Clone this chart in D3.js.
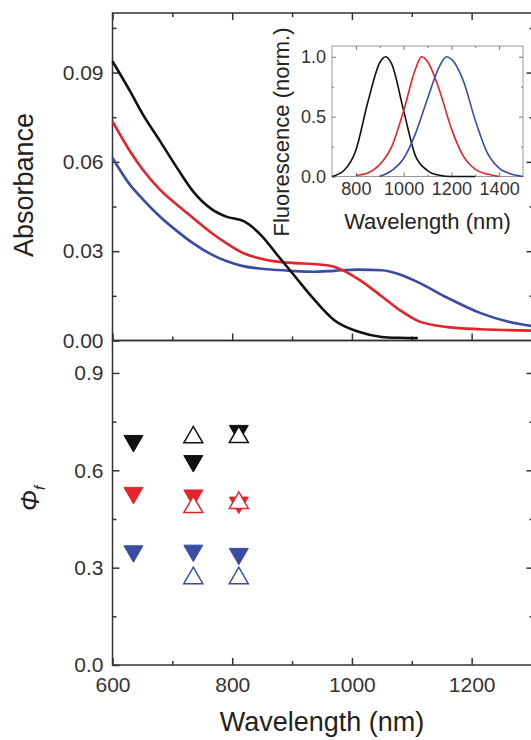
<!DOCTYPE html>
<meta charset="utf-8">
<style>
body { margin: 0; background: #fff; }
svg { background: #fff; font-family: "Liberation Sans", Arial, sans-serif; }
.frame { fill: none; stroke: #333; stroke-width: 1.5px; }
.axis path.domain { display: none; }
.axis line { stroke: #333; stroke-width: 1.5px; }
.axis text { fill: #333; font-size: 21px; font-family: "Liberation Sans", Arial, sans-serif; }
.inset .axis line { stroke: #777; stroke-width: 1px; }
.inset .axis text { font-size: 18px; }
.curve { fill: none; stroke-width: 2.6px; }
.icurve { fill: none; stroke-width: 1.6px; }
.title { fill: #222; }
</style>
<svg width="531" height="740"></svg>
<script src="https://cdn.jsdelivr.net/npm/d3@7"></script>
<script>

// absorbance spectra (top panel)
var absNm    = [600, 630, 650, 680, 710, 735, 765, 790, 820, 850, 875, 905, 935, 970, 1010, 1050, 1080, 1110, 1160, 1215, 1260, 1300];
var absBlack = [0.0938, 0.0835, 0.0762, 0.0668, 0.0573, 0.0500, 0.0442, 0.0416, 0.0400, 0.0350, 0.0288, 0.0215, 0.0142, 0.0069, 0.0030, 0.0012, 0.0009, 0.0008, null, null, null, null];
var absRed   = [0.0736, 0.0633, 0.0575, 0.0505, 0.0452, 0.0411, 0.0362, 0.0327, 0.0292, 0.0274, 0.0265, 0.0260, 0.0257, 0.0248, 0.0207, 0.0148, 0.0102, 0.0066, 0.0045, 0.0038, 0.0035, 0.0033];
var absBlue  = [0.0613, 0.0521, 0.0476, 0.0415, 0.0364, 0.0326, 0.0289, 0.0267, 0.0249, 0.0241, 0.0237, 0.0233, 0.0231, 0.0234, 0.0238, 0.0236, 0.0222, 0.0196, 0.0143, 0.0092, 0.0064, 0.0049];

// normalised fluorescence (inset)
var flNmBlack = [700, 750, 800, 850, 900, 925, 950, 1000, 1050, 1100, 1150, 1200, 1300];
var flBlack   = [0.00, 0.05, 0.22, 0.62, 0.95, 1.00, 0.94, 0.55, 0.17, 0.05, 0.01, 0.00, 0.00];
var flNmRed   = [800, 850, 900, 950, 1000, 1050, 1075, 1100, 1150, 1200, 1250, 1300, 1350, 1400];
var flRed     = [0.01, 0.03, 0.10, 0.25, 0.55, 0.90, 1.00, 0.96, 0.72, 0.40, 0.17, 0.06, 0.02, 0.00];
var flNmBlue  = [900, 950, 1000, 1050, 1100, 1150, 1180, 1200, 1250, 1300, 1350, 1400, 1450, 1500];
var flBlue    = [0.00, 0.05, 0.15, 0.36, 0.65, 0.92, 1.00, 0.98, 0.80, 0.47, 0.20, 0.07, 0.02, 0.00];

// quantum yields at the three excitation wavelengths (bottom panel)
var excitation = [635, 735, 811];
var phiFilledBlack = [0.682, 0.620, 0.713];
var phiOpenBlack   = [null, 0.710, 0.711];
var phiFilledRed   = [0.522, 0.514, 0.492];
var phiOpenRed     = [null, 0.495, 0.508];
var phiFilledBlue  = [0.342, 0.344, 0.334];
var phiOpenBlue    = [null, 0.276, 0.276];

var colors = {black: "#111111", red: "#e5232a", blue: "#3a4ba3"};

var svg = d3.select("svg");

var x = d3.scaleLinear().domain([600, 1300]).range([112.5, 531.5]),
    yA = d3.scaleLinear().domain([0, 0.11]).range([340.5, 13]),
    yP = d3.scaleLinear().domain([0, 1.0]).range([665, 340.5]);

// right edge of the frame sits just past the cropped border
var right = 533.5;

// frames of both panels
svg.append("rect").attr("class", "frame")
    .attr("x", x(600)).attr("y", yA(0.11))
    .attr("width", right - x(600)).attr("height", yA(0) - yA(0.11));
svg.append("rect").attr("class", "frame")
    .attr("x", x(600)).attr("y", yP(1))
    .attr("width", right - x(600)).attr("height", yP(0) - yP(1));

function ticks(axis, at, values, size, fmt, pad) {
  var g = svg.append("g").attr("class", "axis").attr("transform", at)
      .call(axis.tickValues(values).tickSize(size).tickSizeOuter(0)
        .tickPadding(pad || 9).tickFormat(fmt || ""));
  g.attr("font-size", null).attr("font-family", null);
  return g;
}

var xMajor = [600, 800, 1000, 1200], xMinor = [700, 900, 1100];

// top panel ticks
ticks(d3.axisLeft(yA), "translate(" + x(600) + ",0)", [0, 0.03, 0.06, 0.09], -7, d3.format(".2f"));
ticks(d3.axisLeft(yA), "translate(" + x(600) + ",0)", [0.015, 0.045, 0.075, 0.105], -4);
ticks(d3.axisRight(yA), "translate(" + right + ",0)", [0.03, 0.06, 0.09], -7);
ticks(d3.axisRight(yA), "translate(" + right + ",0)", [0.015, 0.045, 0.075, 0.105], -4);
ticks(d3.axisBottom(x), "translate(0," + yA(0) + ")", xMajor, -7);
ticks(d3.axisBottom(x), "translate(0," + yA(0) + ")", xMinor, -4);
ticks(d3.axisTop(x), "translate(0," + yA(0.11) + ")", xMajor, -7);
ticks(d3.axisTop(x), "translate(0," + yA(0.11) + ")", xMinor, -4);

// bottom panel ticks
ticks(d3.axisLeft(yP), "translate(" + x(600) + ",0)", [0, 0.3, 0.6, 0.9], -7, d3.format(".1f"));
ticks(d3.axisLeft(yP), "translate(" + x(600) + ",0)", [0.15, 0.45, 0.75], -4);
ticks(d3.axisRight(yP), "translate(" + right + ",0)", [0.3, 0.6, 0.9], -7);
ticks(d3.axisRight(yP), "translate(" + right + ",0)", [0.15, 0.45, 0.75], -4);
ticks(d3.axisBottom(x), "translate(0," + yP(0) + ")", xMajor, -7, d3.format("d"), 12);
ticks(d3.axisBottom(x), "translate(0," + yP(0) + ")", xMinor, -4);

// absorbance curves
var absLine = d3.line()
    .defined(function(d) { return d[1] != null; })
    .curve(d3.curveMonotoneX)
    .x(function(d) { return x(d[0]); })
    .y(function(d) { return yA(d[1]); });

[[absBlue, colors.blue], [absRed, colors.red], [absBlack, colors.black]].forEach(function(s) {
  svg.append("path")
      .attr("class", "curve")
      .attr("stroke", s[1])
      .attr("d", absLine(d3.zip(absNm, s[0])));
});

// inset
var xi = d3.scaleLinear().domain([700, 1500]).range([332, 523]),
    yi = d3.scaleLinear().domain([0, 1.09]).range([176.5, 46]);

var inset = svg.append("g").attr("class", "inset");
inset.append("rect")
    .attr("x", xi(700)).attr("y", yi(1.09))
    .attr("width", xi(1500) - xi(700)).attr("height", yi(0) - yi(1.09))
    .attr("fill", "#fff").attr("stroke", "#999").attr("stroke-width", 1);

function iticks(axis, at, values, size, fmt) {
  var g = inset.append("g").attr("class", "axis").attr("transform", at)
      .call(axis.tickValues(values).tickSize(size).tickSizeOuter(0)
        .tickPadding(6).tickFormat(fmt || ""));
  g.attr("font-size", null).attr("font-family", null);
}
iticks(d3.axisBottom(xi), "translate(0," + yi(0) + ")", [800, 1000, 1200, 1400], -4, d3.format("d"));
iticks(d3.axisBottom(xi), "translate(0," + yi(0) + ")", [900, 1100, 1300], -2);
iticks(d3.axisTop(xi), "translate(0," + yi(1.09) + ")", [800, 1000, 1200, 1400], -4);
iticks(d3.axisTop(xi), "translate(0," + yi(1.09) + ")", [900, 1100, 1300], -2);
iticks(d3.axisLeft(yi), "translate(" + xi(700) + ",0)", [0, 0.5, 1.0], -4, d3.format(".1f"));
iticks(d3.axisLeft(yi), "translate(" + xi(700) + ",0)", [0.25, 0.75], -2);
iticks(d3.axisRight(yi), "translate(" + xi(1500) + ",0)", [0.5, 1.0], -4);
iticks(d3.axisRight(yi), "translate(" + xi(1500) + ",0)", [0.25, 0.75], -2);

var flLine = d3.line()
    .curve(d3.curveMonotoneX)
    .x(function(d) { return xi(d[0]); })
    .y(function(d) { return yi(d[1]); });

[[flNmBlack, flBlack, colors.black], [flNmRed, flRed, colors.red], [flNmBlue, flBlue, colors.blue]].forEach(function(s) {
  inset.append("path")
      .attr("class", "icurve")
      .attr("stroke", s[2])
      .attr("d", flLine(d3.zip(s[0], s[1])));
});

inset.append("text")
    .attr("class", "title")
    .attr("x", (xi(700) + xi(1500)) / 2).attr("y", 229)
    .attr("text-anchor", "middle")
    .style("font-size", "22px")
    .text("Wavelength (nm)");
inset.append("text")
    .attr("class", "title")
    .attr("transform", "translate(289,132) rotate(-90)")
    .attr("text-anchor", "middle")
    .style("font-size", "22px")
    .text("Fluorescence (norm.)");

// quantum yield markers: filled down-triangles, open (white) up-triangles on top
var s = 19, h = s * Math.sqrt(3) / 2;
var downTri = "M" + (-s / 2) + "," + (-h / 2) + "L" + (s / 2) + "," + (-h / 2) + "L0," + (h / 2) + "Z",
    upTri = "M" + (-s / 2) + "," + (h / 2) + "L" + (s / 2) + "," + (h / 2) + "L0," + (-h / 2) + "Z";

var sets = [
  [phiFilledBlack, phiOpenBlack, colors.black],
  [phiFilledRed, phiOpenRed, colors.red],
  [phiFilledBlue, phiOpenBlue, colors.blue]
];

sets.forEach(function(set) {
  var filled = d3.zip(excitation, set[0]),
      open = d3.zip(excitation, set[1]).filter(function(d) { return d[1] != null; });
  svg.append("g").selectAll("path")
    .data(filled)
    .enter().append("path")
      .attr("transform", function(d) { return "translate(" + x(d[0]) + "," + yP(d[1]) + ")"; })
      .attr("d", downTri)
      .attr("fill", set[2])
      .attr("stroke", set[2])
      .attr("stroke-width", 1);
  svg.append("g").selectAll("path")
    .data(open)
    .enter().append("path")
      .attr("transform", function(d) { return "translate(" + x(d[0]) + "," + yP(d[1]) + ")"; })
      .attr("d", upTri)
      .attr("fill", "#fff")
      .attr("stroke", set[2])
      .attr("stroke-width", 1.5);
});

// axis titles
svg.append("text")
    .attr("class", "title")
    .attr("x", (x(600) + x(1300)) / 2).attr("y", 731)
    .attr("text-anchor", "middle")
    .style("font-size", "27px")
    .text("Wavelength (nm)");

svg.append("text")
    .attr("class", "title")
    .attr("transform", "translate(33,185) rotate(-90)")
    .attr("text-anchor", "middle")
    .style("font-size", "27px")
    .text("Absorbance");

var phi = svg.append("text")
    .attr("class", "title")
    .attr("transform", "translate(39,511) rotate(-90)")
    .style("font-style", "italic");
phi.append("tspan").style("font-size", "25px").text("Φ");
phi.append("tspan").style("font-size", "15px").attr("dy", 6).text("f");

</script>
